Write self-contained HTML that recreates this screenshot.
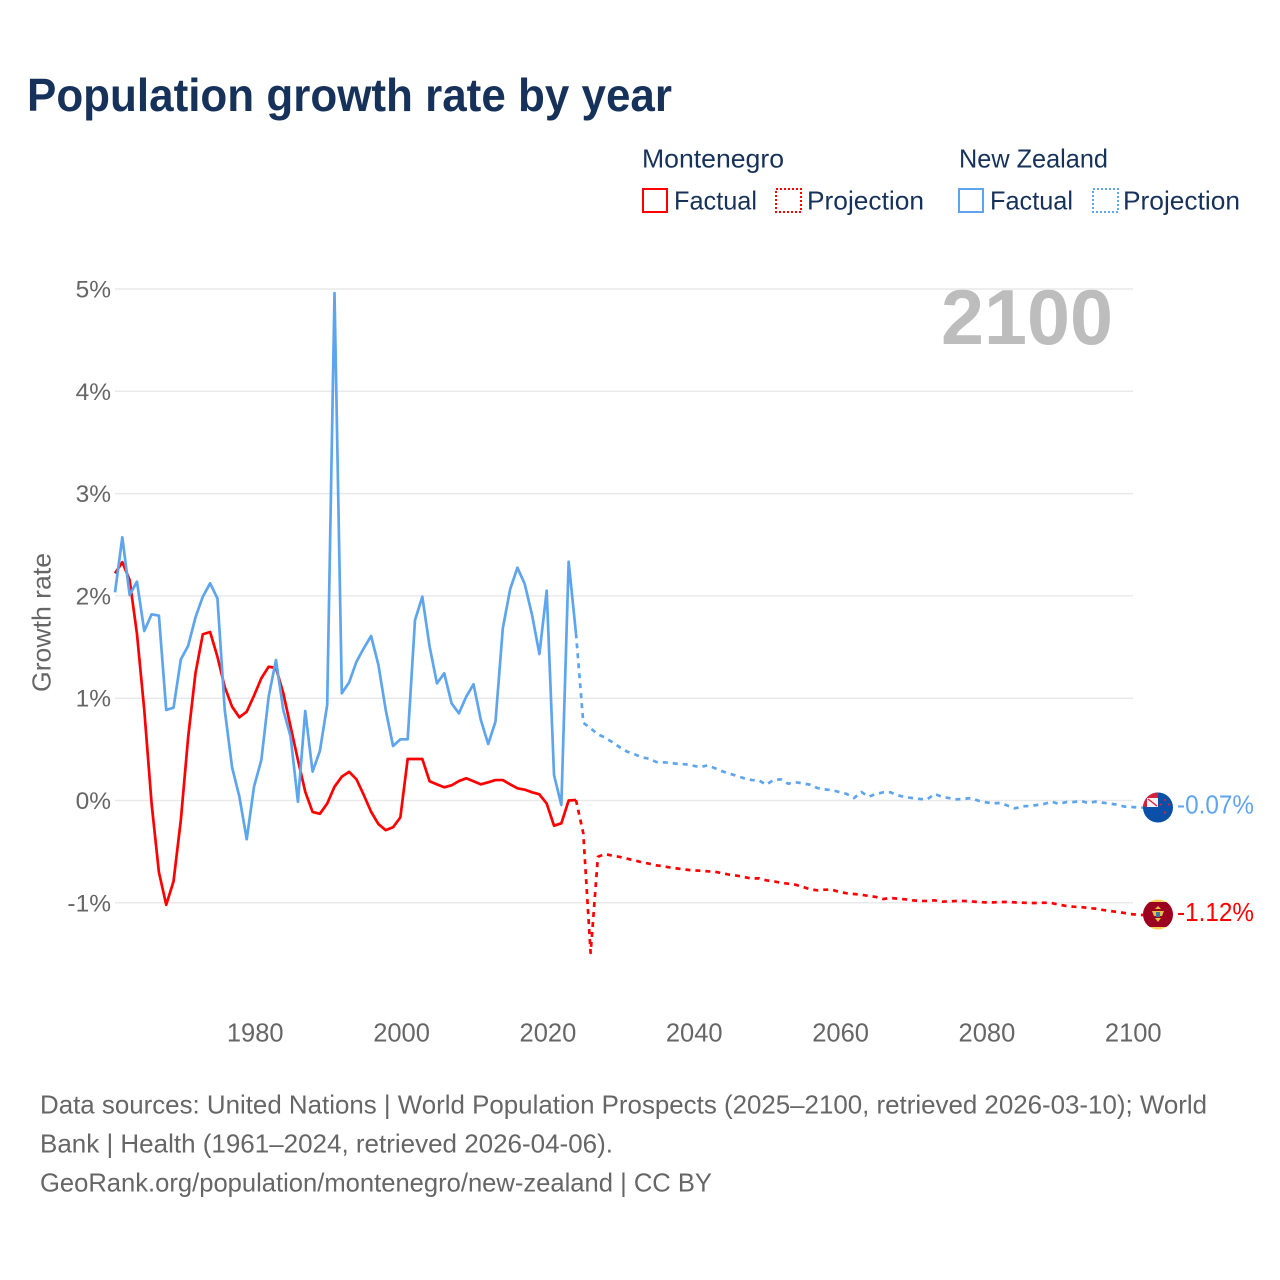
<!DOCTYPE html>
<html lang="en">
<head>
<meta charset="utf-8">
<title>Population growth rate by year</title>
<style>
html,body{margin:0;padding:0;background:#fff;width:1280px;height:1280px;overflow:hidden}
svg{display:block}
text{font-family:"Liberation Sans",sans-serif}
</style>
</head>
<body>
<svg id="chart" xmlns="http://www.w3.org/2000/svg" width="1280" height="1280" viewBox="0 0 1280 1280">
  <rect x="0" y="0" width="1280" height="1280" fill="#ffffff"/>
  <text x="27" y="111" font-size="46" font-weight="700" fill="#17325a" textLength="645" lengthAdjust="spacingAndGlyphs">Population growth rate by year</text>

  <g font-size="26" fill="#17325a">
    <text x="642" y="167.5" textLength="142" lengthAdjust="spacingAndGlyphs">Montenegro</text>
    <rect x="643" y="189" width="24" height="23" fill="none" stroke="#ff0000" stroke-width="2"/>
    <text x="674" y="209.5" textLength="83" lengthAdjust="spacingAndGlyphs">Factual</text>
    <rect x="776" y="189" width="25" height="23" fill="none" stroke="#ff0000" stroke-width="2" stroke-dasharray="2 2"/>
    <text x="807" y="209.5" textLength="117" lengthAdjust="spacingAndGlyphs">Projection</text>
    <text x="959" y="167.5" textLength="149" lengthAdjust="spacingAndGlyphs">New Zealand</text>
    <rect x="959" y="189" width="24" height="23" fill="none" stroke="#5ea5ee" stroke-width="2"/>
    <text x="990" y="209.5" textLength="83" lengthAdjust="spacingAndGlyphs">Factual</text>
    <rect x="1093" y="189" width="25" height="23" fill="none" stroke="#5ea5ee" stroke-width="2" stroke-dasharray="2 2"/>
    <text x="1123" y="209.5" textLength="117" lengthAdjust="spacingAndGlyphs">Projection</text>
  </g>

  <text x="941" y="344" font-size="78" font-weight="700" fill="#bdbdbd" textLength="172" lengthAdjust="spacingAndGlyphs">2100</text>
  <g id="grid"></g>
  <g id="yticks"></g>
  <g id="xticks"></g>
  <text transform="translate(50.5,692) rotate(-90)" font-size="26" fill="#666666" textLength="139" lengthAdjust="spacingAndGlyphs">Growth rate</text>
  <g id="series"></g>

  <defs>
    <clipPath id="nz-clip"><circle cx="1158" cy="807.5" r="15"/></clipPath>
    <clipPath id="me-clip"><circle cx="1158" cy="914.5" r="15"/></clipPath>
  </defs>
  <g id="flag-nz" clip-path="url(#nz-clip)">
    <rect x="1143" y="792" width="30" height="31" fill="#0a50a8"/>
    <rect x="1143" y="792" width="15" height="15" fill="#d8203a"/>
    <rect x="1147" y="798" width="11" height="9" fill="#f4f4f8"/>
    <path d="M1148 799 L1157 806" stroke="#d8203a" stroke-width="1.4"/>
    <circle cx="1165" cy="800" r="1.1" fill="#d8203a"/>
    <circle cx="1161" cy="804.5" r="1.1" fill="#d8203a"/>
    <circle cx="1169" cy="804.5" r="1.1" fill="#d8203a"/>
    <circle cx="1165" cy="812.5" r="1.2" fill="#d8203a"/>
  </g>
  <g id="flag-me" clip-path="url(#me-clip)">
    <rect x="1143" y="899" width="30" height="31" fill="#f5cf55"/>
    <rect x="1143" y="902" width="30" height="25" fill="#9c0020"/>
    <path d="M1158 906 l3 3 h-6 z" fill="#e8bf45"/>
    <path d="M1152 911 h12 l-2 5 h-8 z" fill="#e8bf45"/>
    <rect x="1156" y="912" width="4" height="5" fill="#2f7fa8"/>
    <path d="M1155 918 h6 l-3 4 z" fill="#e8bf45"/>
  </g>
  <g id="endlabels"></g>

  <g font-size="26" fill="#666666">
    <text x="40" y="1113.5" textLength="1167" lengthAdjust="spacingAndGlyphs">Data sources: United Nations | World Population Prospects (2025–2100, retrieved 2026-03-10); World</text>
    <text x="40" y="1152.5" textLength="573" lengthAdjust="spacingAndGlyphs">Bank | Health (1961–2024, retrieved 2026-04-06).</text>
    <text x="40" y="1191.5" textLength="672" lengthAdjust="spacingAndGlyphs">GeoRank.org/population/montenegro/new-zealand | CC BY</text>
  </g>
</svg>
<script>
const yTickValues = [5, 4, 3, 2, 1, 0, -1];
const xTickYears = [1980, 2000, 2020, 2040, 2060, 2080, 2100];
const factualStartYear = 1961;
const projectionStartYear = 2024;
const montenegroFactual = [2.22,2.33,2.155,1.63,0.885,-0.03,-0.70,-1.02,-0.79,-0.19,0.62,1.245,1.625,1.647,1.405,1.11,0.917,0.813,0.868,1.025,1.195,1.308,1.295,1.05,0.72,0.396,0.086,-0.112,-0.13,-0.03,0.135,0.233,0.28,0.207,0.054,-0.11,-0.23,-0.29,-0.262,-0.165,0.406,0.406,0.406,0.188,0.158,0.129,0.148,0.19,0.217,0.188,0.158,0.178,0.2,0.2,0.158,0.119,0.106,0.08,0.06,-0.03,-0.246,-0.223,0,0.005];
const montenegroProjection = [0.005,-0.32,-1.49,-0.55,-0.523,-0.54,-0.552,-0.569,-0.585,-0.604,-0.618,-0.634,-0.643,-0.657,-0.666,-0.676,-0.683,-0.686,-0.692,-0.696,-0.712,-0.725,-0.735,-0.748,-0.764,-0.76,-0.78,-0.79,-0.804,-0.813,-0.823,-0.845,-0.868,-0.878,-0.872,-0.872,-0.894,-0.907,-0.914,-0.921,-0.933,-0.943,-0.963,-0.953,-0.96,-0.966,-0.976,-0.982,-0.982,-0.976,-0.989,-0.986,-0.982,-0.982,-0.986,-0.992,-0.996,-0.996,-0.992,-0.992,-0.996,-0.999,-1.002,-1.002,-0.999,-1.002,-1.018,-1.031,-1.038,-1.041,-1.051,-1.057,-1.07,-1.08,-1.09,-1.1,-1.112];
const newZealandFactual = [2.035,2.573,2.009,2.139,1.657,1.82,1.807,0.885,0.907,1.38,1.513,1.79,1.992,2.123,1.976,0.885,0.325,0.037,-0.379,0.135,0.396,1.015,1.373,0.885,0.624,-0.012,0.875,0.282,0.484,0.934,4.96,1.048,1.155,1.357,1.488,1.608,1.325,0.885,0.533,0.598,0.598,1.764,1.992,1.503,1.145,1.243,0.95,0.852,1.015,1.136,0.787,0.552,0.77,1.683,2.064,2.276,2.116,1.813,1.432,2.051,0.249,-0.044,2.334,1.634];
const newZealandProjection = [1.634,0.76,0.706,0.647,0.614,0.569,0.52,0.477,0.452,0.422,0.409,0.376,0.373,0.367,0.357,0.354,0.34,0.327,0.344,0.315,0.285,0.262,0.24,0.217,0.2,0.197,0.154,0.2,0.207,0.164,0.178,0.168,0.154,0.122,0.109,0.1,0.083,0.064,0.024,0.083,0.037,0.064,0.08,0.08,0.05,0.034,0.024,0.015,0.011,0.064,0.037,0.024,0.011,0.015,0.024,-0.002,-0.018,-0.028,-0.024,-0.05,-0.077,-0.057,-0.054,-0.044,-0.034,-0.011,-0.034,-0.015,-0.015,-0.005,-0.024,-0.011,-0.021,-0.031,-0.041,-0.06,-0.064];
const endValues = [-0.07, -1.12];
const endLabels = ['-0.07%', '-1.12%'];
const endColors = ['#5ea5ee', '#ff0000'];

const NS = 'http://www.w3.org/2000/svg';
function xScale(year) { return 115 + 7.317 * (year - 1961); }
function yScale(value) { return 800.5 - 102.3 * value; }
function linePath(values, startYear, endValue) {
  let d = values.map(function (v, i) {
    return (i ? 'L' : 'M') + xScale(startYear + i).toFixed(2) + ' ' + yScale(v).toFixed(2);
  }).join(' ');
  if (endValue !== undefined) {
    d += ' L' + (xScale(2100) + 12).toFixed(2) + ' ' + yScale(endValue).toFixed(2);
  }
  return d;
}
function addLine(values, startYear, color, dashed, name, endValue) {
  const p = document.createElementNS(NS, 'path');
  p.setAttribute('d', linePath(values, startYear, endValue));
  p.setAttribute('fill', 'none');
  p.setAttribute('stroke', color);
  p.setAttribute('stroke-width', '2.7');
  p.setAttribute('stroke-linejoin', 'round');
  if (dashed) p.setAttribute('stroke-dasharray', '5 5');
  
  
  document.getElementById('series').appendChild(p);
}

yTickValues.forEach(function (v) {
  const line = document.createElementNS(NS, 'line');
  line.setAttribute('x1', 115);
  line.setAttribute('x2', 1133);
  line.setAttribute('y1', yScale(v));
  line.setAttribute('y2', yScale(v));
  line.setAttribute('stroke', '#e9e9e9');
  line.setAttribute('stroke-width', '1.5');
  
  
  document.getElementById('grid').appendChild(line);

  const t = document.createElementNS(NS, 'text');
  t.setAttribute('x', 111);
  t.setAttribute('y', yScale(v) + 8.5);
  t.setAttribute('text-anchor', 'end');
  t.setAttribute('font-size', '24.5');
  t.setAttribute('fill', '#666666');
  t.textContent = v + '%';
  
  
  document.getElementById('yticks').appendChild(t);
});

xTickYears.forEach(function (yr) {
  const t = document.createElementNS(NS, 'text');
  t.setAttribute('x', xScale(yr) + 1.2);
  t.setAttribute('y', 1041.5);
  t.setAttribute('text-anchor', 'middle');
  t.setAttribute('font-size', '25.5');
  t.setAttribute('fill', '#666666');
  t.textContent = yr;
  
  
  document.getElementById('xticks').appendChild(t);
});

addLine(montenegroFactual, factualStartYear, '#ff0000', false, 'montenegro-factual-line');
addLine(newZealandFactual, factualStartYear, '#5ea5ee', false, 'new-zealand-factual-line');
addLine(montenegroProjection, projectionStartYear, '#ff0000', true, 'montenegro-projection-line', endValues[1]);
addLine(newZealandProjection, projectionStartYear, '#5ea5ee', true, 'new-zealand-projection-line', endValues[0]);

endValues.forEach(function (v, i) {
  const t = document.createElementNS(NS, 'text');
  t.setAttribute('x', 1177);
  t.setAttribute('y', yScale(v) + 6);
  t.setAttribute('font-size', '26');
  t.setAttribute('fill', endColors[i]);
  t.setAttribute('textLength', '77');
  t.setAttribute('lengthAdjust', 'spacingAndGlyphs');
  t.textContent = endLabels[i];
  
  
  document.getElementById('endlabels').appendChild(t);
});
</script>
</body>
</html>
